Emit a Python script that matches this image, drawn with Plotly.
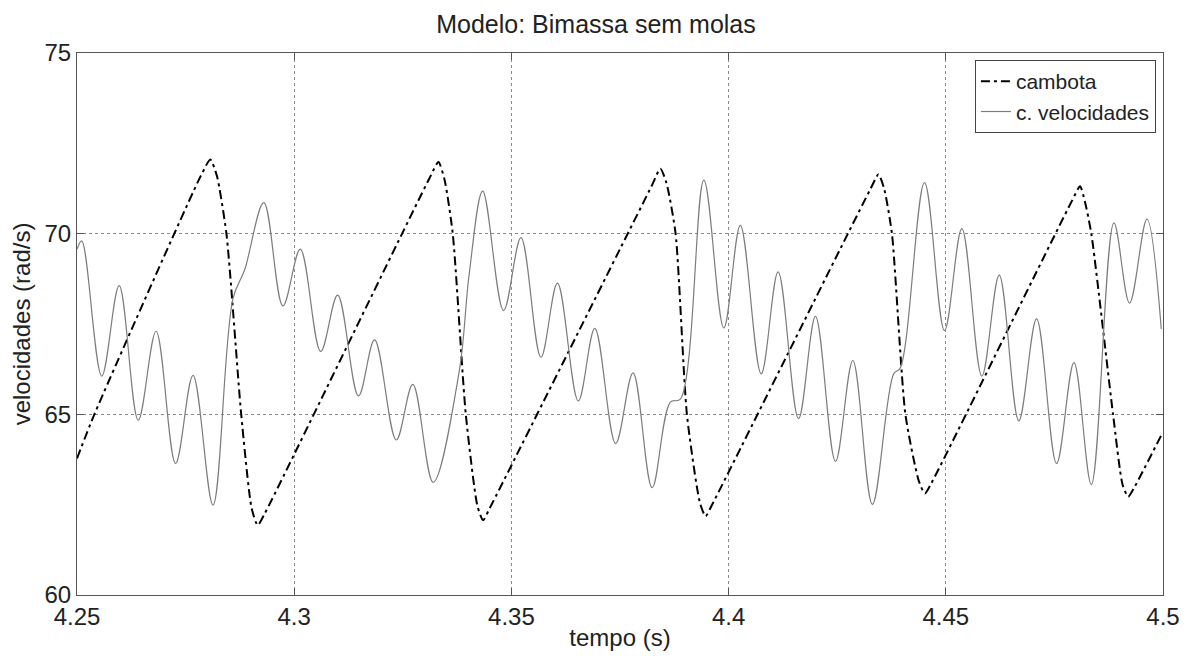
import plotly.graph_objects as go

# cambota (dash-dot) key points
cambota_t = [4.2500, 4.2540, 4.2785, 4.2807, 4.2822, 4.2844, 4.2878, 4.2902, 4.2916, 4.2932,
             4.3310, 4.3332, 4.3346, 4.3365, 4.3395, 4.3422, 4.3435, 4.3450,
             4.3822, 4.3843, 4.3857, 4.3878, 4.3904, 4.3934, 4.3947, 4.3962,
             4.4325, 4.4345, 4.4358, 4.4376, 4.4407, 4.4438, 4.4452, 4.4467,
             4.4790, 4.4809, 4.4820, 4.4835, 4.4885, 4.4907, 4.4920, 4.4935, 4.4996]
cambota_v = [63.78, 65.0, 71.6, 72.05, 71.6, 70.0, 65.0, 62.4, 61.93, 62.25,
             71.5, 71.98, 71.5, 70.0, 65.0, 62.45, 62.07, 62.4,
             71.3, 71.8, 71.4, 70.0, 65.0, 62.55, 62.18, 62.5,
             71.2, 71.64, 71.25, 70.0, 65.0, 63.15, 62.81, 63.1,
             70.9, 71.31, 70.9, 70.0, 65.0, 63.05, 62.72, 63.0, 64.42]

# c. velocidades (solid grey) extrema and shoulders
vel_t = [4.2500, 4.2511, 4.2557, 4.2597, 4.2641, 4.2682, 4.2727, 4.2767, 4.2813,
         4.2859, 4.2886, 4.2930, 4.2974, 4.3014, 4.3061, 4.3100, 4.3148, 4.3185,
         4.3235, 4.3273, 4.3320, 4.3380, 4.3403, 4.3434, 4.3482, 4.3522, 4.3568,
         4.3606, 4.3654, 4.3692, 4.3740, 4.3780, 4.3824, 4.3866, 4.3889, 4.3943,
         4.3989, 4.4027, 4.4075, 4.4114, 4.4161, 4.4200, 4.4246, 4.4286, 4.4331,
         4.4380, 4.4395, 4.4451, 4.4497, 4.4537, 4.4583, 4.4623, 4.4668, 4.4709,
         4.4755, 4.4795, 4.4835, 4.4887, 4.4923, 4.4963, 4.4996]
vel_v = [69.57, 69.80, 66.06, 68.56, 64.84, 67.30, 63.64, 66.08, 62.49,
         68.20, 69.00, 70.86, 68.00, 69.57, 66.74, 68.30, 65.51, 67.06,
         64.29, 65.83, 63.12, 66.20, 68.90, 71.18, 67.87, 69.89, 66.58,
         68.63, 65.37, 67.38, 64.19, 66.15, 62.97, 65.34, 65.42, 71.48,
         67.39, 70.23, 66.12, 68.94, 64.88, 67.71, 63.70, 66.49, 62.51,
         66.12, 66.28, 71.41, 67.32, 70.14, 66.06, 68.85, 64.82, 67.64,
         63.64, 66.43, 63.06, 70.30, 68.08, 70.40, 67.36]

x_ticks = [4.25, 4.3, 4.35, 4.4, 4.45, 4.5]
x_labels = ["4.25", "4.3", "4.35", "4.4", "4.45", "4.5"]
y_ticks = [60, 65, 70, 75]

fig = go.Figure()
fig.add_trace(go.Scatter(x=cambota_t, y=cambota_v, mode="lines", name="cambota",
                         line=dict(color="black", width=2, dash="9px,4px,3px,4px",
                                   shape="spline", smoothing=0.6)))
fig.add_trace(go.Scatter(x=vel_t, y=vel_v, mode="lines", name="c. velocidades",
                         line=dict(color="#7d7d7d", width=1.2, shape="spline", smoothing=1.0)))

font_main = "Liberation Sans, Arial, sans-serif"
fig.update_layout(
    width=1192, height=659,
    margin=dict(l=77, r=27, t=53, b=62),
    paper_bgcolor="white", plot_bgcolor="white",
    font=dict(family=font_main, color="black"),
    title=dict(text="Modelo: Bimassa sem molas", x=0.5, xanchor="center",
               y=1 - 24 / 659, yanchor="middle", font=dict(size=25, color="#222")),
    legend=dict(x=0.9935, y=0.987, xanchor="right", yanchor="top",
                bgcolor="white", bordercolor="#444", borderwidth=1,
                font=dict(size=21, color="#222"), tracegroupgap=0,
                itemwidth=30),
    showlegend=True,
)
fig.update_xaxes(range=[4.25, 4.5], tickvals=x_ticks, ticktext=x_labels,
                 showgrid=True, gridcolor="#8a8a8a", griddash="dot", gridwidth=1,
                 showline=True, linecolor="#555", linewidth=1.2, mirror="ticks",
                 ticks="inside", ticklen=7, tickcolor="#555",
                 tickfont=dict(size=24, color="#222"), zeroline=False,
                 title=dict(text="tempo (s)", font=dict(size=24, color="#222"), standoff=0))
fig.update_yaxes(range=[60, 75], tickvals=y_ticks,
                 showgrid=True, gridcolor="#8a8a8a", griddash="dot", gridwidth=1,
                 showline=True, linecolor="#555", linewidth=1.2, mirror="ticks",
                 ticks="inside", ticklen=7, tickcolor="#555",
                 tickfont=dict(size=24, color="#222"), zeroline=False,
                 title=dict(text="velocidades (rad/s)", font=dict(size=24, color="#222"), standoff=6))

fig.write_html("out.html")
